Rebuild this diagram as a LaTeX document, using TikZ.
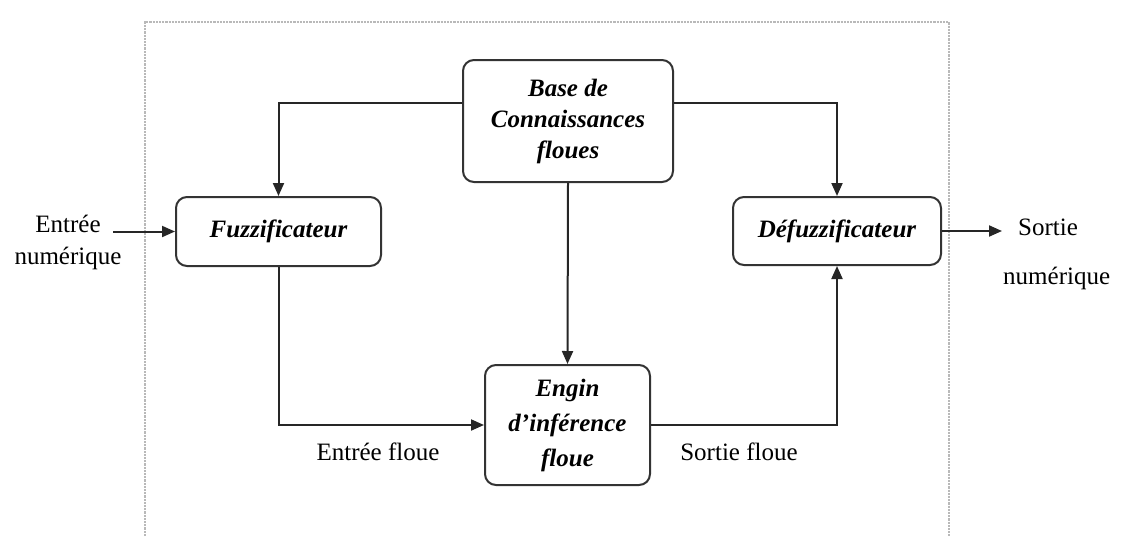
\documentclass[tikz,border=0pt]{standalone}
\usepackage{fontspec}
\setmainfont{Liberation Serif}
\usetikzlibrary{arrows.meta}
\begin{document}
\begin{tikzpicture}[x=1pt,y=-1pt,
  every node/.style={font=\fontsize{25}{30}\selectfont},
  blockbox/.style={draw=black!80,line width=2pt,rounded corners=11pt,align=center,
    inner sep=0pt,font=\fontsize{25}{31}\selectfont\bfseries\itshape},
  conn/.style={draw=black!85,line width=2pt},
  arr/.style={conn,-{Triangle[length=13pt,width=11pt]}},
  lbl/.style={inner sep=0pt,align=center}]
\useasboundingbox (0,0) rectangle (1122,536);
% frame
\draw[gray!55,line width=2.2pt,densely dotted] (145,536) -- (145,22) -- (949,22) -- (949,536);
% blocks
\node[blockbox,minimum width=205pt,minimum height=69pt] (fuzz) at (278.5,231.5) {\raisebox{5pt}{Fuzzificateur}};
\node[blockbox,minimum width=210pt,minimum height=122pt] (base) at (568,121) {\raisebox{4pt}{\parbox{200pt}{\centering Base de\\Connaissances\\floues}}};
\node[blockbox,minimum width=165pt,minimum height=120pt,font=\fontsize{25}{35}\selectfont\bfseries\itshape] (engin) at (567.5,425) {Engin\\d’inférence\\floue};
\node[blockbox,minimum width=208pt,minimum height=68pt] (defuzz) at (837,231) {Défuzzificateur};
% outer labels
\node[lbl] (inlbl) at (68,242) {Entrée\\[2pt]numérique};
\node[lbl,align=left,anchor=west] (outlbl) at (1003,254) {\hspace*{15pt}Sortie\\[19pt]numérique};
\node[lbl] (efl) at (378,452) {Entrée floue};
\node[lbl] (sfl) at (739,452) {Sortie floue};
% free ends
\coordinate (inpt) at (113,231.5);
\coordinate (outpt) at (1002,231);
% connectors
\draw[arr] (inpt) -- (fuzz.west);
\draw[arr] (defuzz.east) -- (outpt);
\draw[arr] ([yshift=18pt]base.west) -| (fuzz.north);
\draw[arr] ([yshift=18pt]base.east) -| (defuzz.north);
\draw[arr] (base.south) -- (engin.north);
\draw[arr] (fuzz.south) |- (engin.west);
\draw[arr] (engin.east) -| (defuzz.south);
\end{tikzpicture}
\end{document}
